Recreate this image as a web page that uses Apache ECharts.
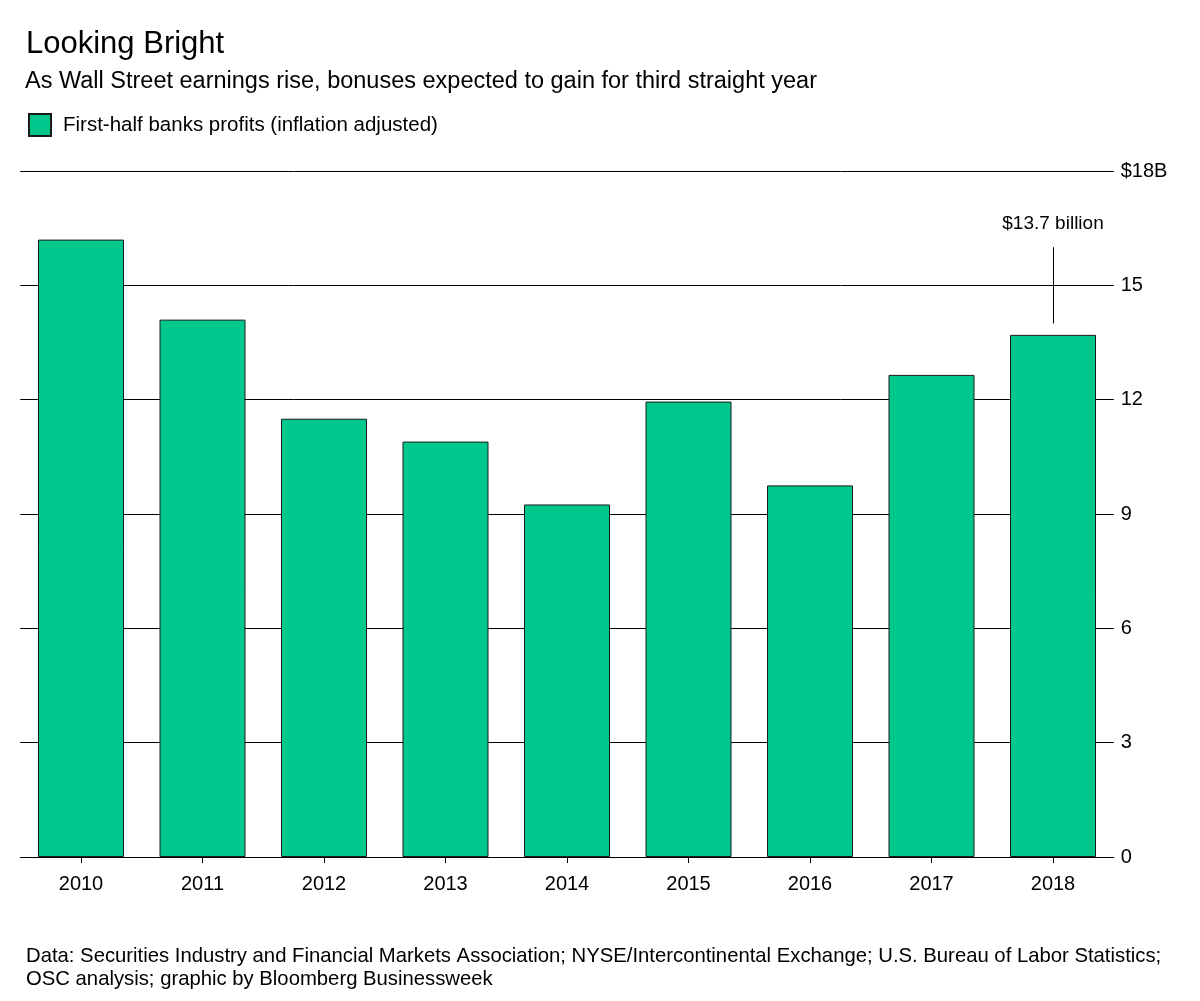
<!DOCTYPE html>
<html>
<head>
<meta charset="utf-8">
<script src="https://cdn.jsdelivr.net/npm/echarts@6/dist/echarts.min.js"></script>
<style>
html,body{margin:0;padding:0;background:#fff;}
#c{width:1200px;height:1001px;}
</style>
</head>
<body>
<div id="c"></div>
<script>
const categories = ['2010','2011','2012','2013','2014','2015','2016','2017','2018'];
const profits = [16.2, 14.1, 11.5, 10.9, 9.25, 11.95, 9.75, 12.65, 13.7];
const yTicks = [0, 3, 6, 9, 12, 15, 18];
const seriesName = 'First-half banks profits (inflation adjusted)';
const titleText = 'Looking Bright';
const subtitleText = 'As Wall Street earnings rise, bonuses expected to gain for third straight year';
const sourceText = 'Data: Securities Industry and Financial Markets Association; NYSE/Intercontinental Exchange; U.S. Bureau of Labor Statistics;\nOSC analysis; graphic by Bloomberg Businessweek';
const annotYear = '2018';
const annotRange = [14, 16];

const FONT = '"Liberation Sans", Arial, Helvetica, sans-serif';
const chart = echarts.init(document.getElementById('c'), null, {renderer: 'canvas'});
const annotIdx = categories.indexOf(annotYear);

chart.setOption({
  animation: false,
  backgroundColor: '#ffffff',
  textStyle: {fontFamily: FONT, color: '#000'},
  title: [
    {text: titleText, left: 21, top: 24, textStyle: {fontFamily: FONT, fontSize: 31, fontWeight: 'normal', color: '#000'}},
    {text: subtitleText, left: 20, top: 65, textStyle: {fontFamily: FONT, fontSize: 23.5, fontWeight: 'normal', color: '#000'}},
    {text: sourceText, left: 21, top: 940, textStyle: {fontFamily: FONT, fontSize: 20.3, fontWeight: 'normal', color: '#000', lineHeight: 23}}
  ],
  legend: {
    left: 23, top: 108,
    icon: 'rect', itemWidth: 22, itemHeight: 22, itemGap: 10,
    textStyle: {fontFamily: FONT, fontSize: 20.5, color: '#000', padding: [0, 0, 0, 7]},
    data: [seriesName]
  },
  grid: {left: 20.25, width: 1093.5, top: 171, bottom: 144, containLabel: false},
  xAxis: {
    type: 'category',
    data: categories,
    boundaryGap: true,
    axisLine: {show: true, lineStyle: {color: '#000', width: 1}},
    axisTick: {show: true, alignWithLabel: true, length: 6, lineStyle: {color: '#000'}},
    axisLabel: {color: '#000', fontSize: 20, fontFamily: FONT, margin: 17}
  },
  yAxis: {
    type: 'value',
    position: 'right',
    min: yTicks[0], max: yTicks[yTicks.length - 1], interval: 3,
    axisLine: {show: false},
    axisTick: {show: false},
    splitLine: {show: true, lineStyle: {color: '#000', width: 1}},
    axisLabel: {
      color: '#000', fontSize: 20, fontFamily: FONT, margin: 7,
      formatter: v => v === yTicks[yTicks.length - 1] ? '$' + v + 'B' : String(v)
    }
  },
  series: [{
    name: seriesName,
    type: 'bar',
    data: profits,
    barWidth: 86,
    itemStyle: {color: '#00c88c', borderColor: '#1a1a1a', borderWidth: 1},
    markLine: {
      silent: true,
      symbol: 'none',
      lineStyle: {color: '#000', width: 1, type: 'solid'},
      label: {
        show: true, position: 'end', distance: 14,
        color: '#000', fontSize: 19, fontFamily: FONT,
        formatter: '$' + profits[annotIdx] + ' billion'
      },
      data: [[
        {coord: [annotYear, annotRange[0]]},
        {coord: [annotYear, annotRange[1]]}
      ]]
    }
  }]
});
</script>
</body>
</html>
